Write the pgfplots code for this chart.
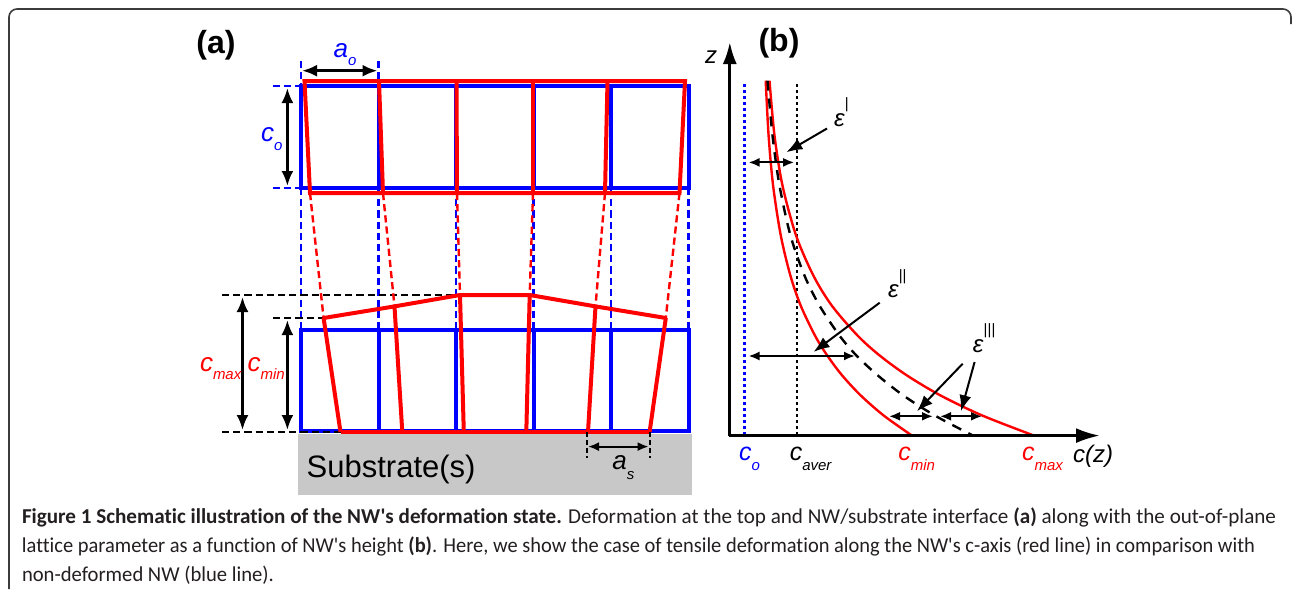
\documentclass[border=0pt]{standalone}
\usepackage{pgfplots}
\pgfplotsset{compat=1.18}
\usetikzlibrary{arrows.meta}
\usepackage{graphicx}
\usepackage{fontspec}
\setmainfont{Liberation Sans}
\newfontfamily\capfont[Ligatures=NoCommon]{Carlito}
\definecolor{myred}{RGB}{255,0,0}
\definecolor{myblue}{RGB}{0,0,255}
\definecolor{subgray}{RGB}{200,200,200}
\definecolor{framegray}{RGB}{60,60,60}
\definecolor{captxt}{RGB}{35,31,32}
\tikzset{
  rect/.style={line width=2pt},
  dsh/.style={line width=1.2pt, dash pattern=on 3.6pt off 2pt},
  dbl/.style={line width=1.4pt, {Latex[length=7.5pt,width=6pt]}-{Latex[length=7.5pt,width=6pt]}},
  sdbl/.style={line width=1pt, {Latex[length=5.5pt,width=4.5pt]}-{Latex[length=5.5pt,width=4.5pt]}},
  sarr/.style={line width=1pt, -{Latex[length=8pt,width=6pt]}},
  lab/.style={anchor=base west, inner sep=0pt, outer sep=0pt},
}
\newcommand{\lsub}[2]{\raisebox{-#1}{\fontsize{7.5}{7.5}\selectfont\itshape #2}}
\newcommand{\lsup}[2]{\raisebox{#1}{\fontsize{7.5}{7.5}\selectfont #2}}
\begin{document}
\begin{tikzpicture}
\begin{axis}[hide axis, scale only axis, width=646pt, height=294.5pt,
  xmin=0, xmax=1292, ymin=0, ymax=589, y dir=reverse, clip=false]
% bounding box
\addplot[draw=none] coordinates {(0,0) (1292,589)};
% frame
\addplot[framegray, line width=0.8pt, rounded corners=4pt] coordinates {(9,589) (9,9) (1291,9) (1291,24)};

% ---------------- panel (a) ----------------
\addplot[fill=subgray, draw=none] coordinates {(298,434) (692,434) (692,494.5) (298,494.5)} -- cycle;
% blue dashed guides
\addplot[myblue, dsh] coordinates {(301,61) (301,86)};
\addplot[myblue, dsh] coordinates {(378.5,61) (378.5,86)};
\addplot[myblue, dsh] coordinates {(273,86) (301,86)};
\addplot[myblue, dsh] coordinates {(273,188) (301,188)};
\addplot[myblue, dsh] coordinates {(301,188) (301,330)};
\addplot[myblue, dsh] coordinates {(378.5,188) (378.5,330)};
\addplot[myblue, dsh] coordinates {(456,188) (456,330)};
\addplot[myblue, dsh] coordinates {(533.5,188) (533.5,330)};
\addplot[myblue, dsh] coordinates {(611,188) (611,330)};
\addplot[myblue, dsh] coordinates {(688.5,188) (688.5,330)};
% blue top cells
\addplot[myblue, rect] coordinates {(301,86) (688.5,86) (688.5,188) (301,188)} -- cycle;
\addplot[myblue, rect] coordinates {(378.5,86) (378.5,188)};
\addplot[myblue, rect] coordinates {(456,86) (456,188)};
\addplot[myblue, rect] coordinates {(533.5,86) (533.5,188)};
\addplot[myblue, rect] coordinates {(611,86) (611,188)};
% blue bottom cells
\addplot[myblue, rect] coordinates {(301,330) (688.5,330) (688.5,431) (301,431)} -- cycle;
\addplot[myblue, rect] coordinates {(378.5,330) (378.5,431)};
\addplot[myblue, rect] coordinates {(456,330) (456,431)};
\addplot[myblue, rect] coordinates {(533.5,330) (533.5,431)};
\addplot[myblue, rect] coordinates {(611,330) (611,431)};
% black dashed guides
\addplot[black, dsh] coordinates {(222,295) (460,295)};
\addplot[black, dsh] coordinates {(273,318) (323.6,318)};
\addplot[black, dsh] coordinates {(222,432) (340.5,432)};
% red dashed connectors
\addplot[myred, dsh] coordinates {(310,193) (323.6,318)};
\addplot[myred, dsh] coordinates {(383,193) (394.5,306.4)};
\addplot[myred, dsh] coordinates {(457,193) (460,295)};
\addplot[myred, dsh] coordinates {(533,193) (529.7,295)};
\addplot[myred, dsh] coordinates {(605,193) (595.5,306.4)};
\addplot[myred, dsh] coordinates {(679.5,193) (665.8,318)};
% red top cells
\addplot[myred, rect] coordinates {(304.5,81) (685,81) (679.5,193) (310,193)} -- cycle;
\addplot[myred, rect] coordinates {(379,81) (383,193)};
\addplot[myred, rect] coordinates {(456.5,81) (457,193)};
\addplot[myred, rect] coordinates {(533,81) (533,193)};
\addplot[myred, rect] coordinates {(607.5,81) (605,193)};
% red bottom cells
\addplot[myred, rect] coordinates {(323.6,318) (394.5,306.4) (460,295) (529.7,295) (595.5,306.4) (665.8,318)};
\addplot[myred, rect] coordinates {(323.6,318) (340.5,432)};
\addplot[myred, rect] coordinates {(394.5,306.4) (402.3,432)};
\addplot[myred, rect] coordinates {(460,295) (463.8,432)};
\addplot[myred, rect] coordinates {(529.7,295) (526.3,432)};
\addplot[myred, rect] coordinates {(595.5,306.4) (588,432)};
\addplot[myred, rect] coordinates {(665.8,318) (649.6,432)};
\addplot[myred, rect] coordinates {(340.5,432) (649.6,432)};
% dimension arrows
\addplot[black, dbl] coordinates {(302,70.7) (377.5,70.7)};
\addplot[black, dbl] coordinates {(287.4,88) (287.4,186)};
\addplot[black, dbl] coordinates {(242.5,297) (242.5,430)};
\addplot[black, dbl] coordinates {(287.4,320) (287.4,430)};
\addplot[black, line width=1pt, dash pattern=on 2.5pt off 1.5pt] coordinates {(587,432) (587,458)};
\addplot[black, line width=1pt, dash pattern=on 2.5pt off 1.5pt] coordinates {(649.6,432) (649.6,458)};
\addplot[black, sdbl] coordinates {(588,446.6) (648.6,446.6)};
% labels (a)
\node[font=\fontsize{16}{16}\selectfont\bfseries] at (axis cs:216,45) {(a)};
\node[lab, text=myblue, font=\fontsize{13}{13}\selectfont\itshape] at (axis cs:333.7,57) {a\lsub{4.3pt}{o}};
\node[lab, text=myblue, font=\fontsize{13}{13}\selectfont\itshape] at (axis cs:261,141.6) {c\lsub{4.2pt}{o}};
\node[lab, text=myred, font=\fontsize{13}{13}\selectfont\itshape] at (axis cs:200,371) {c\lsub{4.3pt}{max}};
\node[lab, text=myred, font=\fontsize{13}{13}\selectfont\itshape] at (axis cs:247.6,371) {c\lsub{4.3pt}{min}};
\node[lab, text=black, font=\fontsize{13}{13}\selectfont\itshape] at (axis cs:612.4,469) {a\lsub{5pt}{s}};
\node[lab, font=\fontsize{15.5}{15.5}\selectfont] at (axis cs:306.7,477) {Substrate(s)};

% ---------------- panel (b) ----------------
\addplot[myblue, line width=1.2pt, dash pattern=on 1.7pt off 1.3pt] coordinates {(744.4,84) (744.4,434)};
\addplot[black, line width=1.1pt, dash pattern=on 1.7pt off 1.3pt] coordinates {(797.3,84) (797.3,434)};
% c_min curve
\addplot[myred, line width=1.2pt, smooth] coordinates {(765.7,80.6) (768.6,135.6) (773.1,185.6) (780.8,235.6) (790.4,275.6) (800.7,305.6) (815.0,335.6) (827.3,355.6) (842.3,375.6) (860.9,395.6) (883.8,415.6) (912,435.6)};
% c_max curve
\addplot[myred, line width=1.2pt, smooth] coordinates {(769.5,80.6) (774.5,135.6) (782.5,185.6) (796.1,235.6) (813.4,275.6) (831.8,305.6) (857.6,335.6) (879.8,355.6) (907.2,375.6) (940.8,395.6) (982.5,415.6) (1034,435.6)};
% average curve
\addplot[black, line width=1.2pt, smooth, dash pattern=on 5pt off 4pt] coordinates {(767.5,80.6) (772.5,135.6) (779.5,185.6) (790.5,235.6) (804.5,275.6) (819.5,305.6) (839.5,335.6) (856.5,355.6) (878,375.6) (903.5,395.6) (935,415.6) (973,435.6)};
% axes
\addplot[black, line width=1.5pt, -{Latex[length=11pt,width=7pt]}] coordinates {(729.8,436.4) (729.8,42)};
\addplot[black, line width=1.5pt, -{Latex[length=12pt,width=7.5pt]}] coordinates {(729,435.6) (1100,435.6)};
% epsilon arrows
\addplot[black, sdbl] coordinates {(748.5,162.4) (794.2,162.4)};
\addplot[black, sdbl] coordinates {(748.5,356) (855,356)};
\addplot[black, sdbl] coordinates {(889,416.3) (933,416.3)};
\addplot[black, sdbl] coordinates {(940,416.3) (982,416.3)};
\addplot[black, sarr] coordinates {(827,128.5) (786.4,152.2)};
\addplot[black, sarr] coordinates {(879.7,302.7) (813.6,351.9)};
\addplot[black, sarr] coordinates {(962.7,363.7) (917,411.2)};
\addplot[black, sarr] coordinates {(974.6,362) (961,411.2)};
% labels (b)
\node[font=\fontsize{16}{16}\selectfont\bfseries] at (axis cs:779,43) {(b)};
\node[lab, font=\fontsize{12}{12}\selectfont\itshape] at (axis cs:705,63) {z};
\node[lab, font=\fontsize{12}{12}\selectfont\itshape] at (axis cs:834,126.8) {ε\lsup{9pt}{|}};
\node[lab, font=\fontsize{12}{12}\selectfont\itshape] at (axis cs:888,297.6) {ε\lsup{8.8pt}{||}};
\node[lab, font=\fontsize{12}{12}\selectfont\itshape] at (axis cs:972.9,352) {ε\lsup{8.6pt}{|||}};
\node[lab, text=myblue, font=\fontsize{12.5}{12.5}\selectfont\itshape] at (axis cs:739,460.3) {c\lsub{5pt}{o}};
\node[lab, text=black, font=\fontsize{12.5}{12.5}\selectfont\itshape] at (axis cs:789.8,460.3) {c\lsub{5pt}{aver}};
\node[lab, text=myred, font=\fontsize{12.5}{12.5}\selectfont\itshape] at (axis cs:898.3,460.3) {c\lsub{5pt}{min}};
\node[lab, text=myred, font=\fontsize{12.5}{12.5}\selectfont\itshape] at (axis cs:1022,460.3) {c\lsub{5pt}{max}};
\node[lab, font=\fontsize{12}{12}\selectfont\itshape] at (axis cs:1073,462) {c(z)};

% ---------------- caption ----------------
\node[lab, text=captxt, font=\capfont\fontsize{10.6}{10.6}\selectfont] at (axis cs:22,523) {\resizebox{627pt}{\height}{\textbf{Figure 1 Schematic illustration of the NW's deformation state.} Deformation at the top and NW/substrate interface \textbf{(a)} along with the out-of-plane}};
\node[lab, text=captxt, font=\capfont\fontsize{10.6}{10.6}\selectfont] at (axis cs:22,552) {\resizebox{616.5pt}{\height}{lattice parameter as a function of NW's height \textbf{(b)}. Here, we show the case of tensile deformation along the NW's c-axis (red line) in comparison with}};
\node[lab, text=captxt, font=\capfont\fontsize{10.6}{10.6}\selectfont] at (axis cs:22,581) {\resizebox{126pt}{\height}{non-deformed NW (blue line).}};
\end{axis}
\end{tikzpicture}
\end{document}
